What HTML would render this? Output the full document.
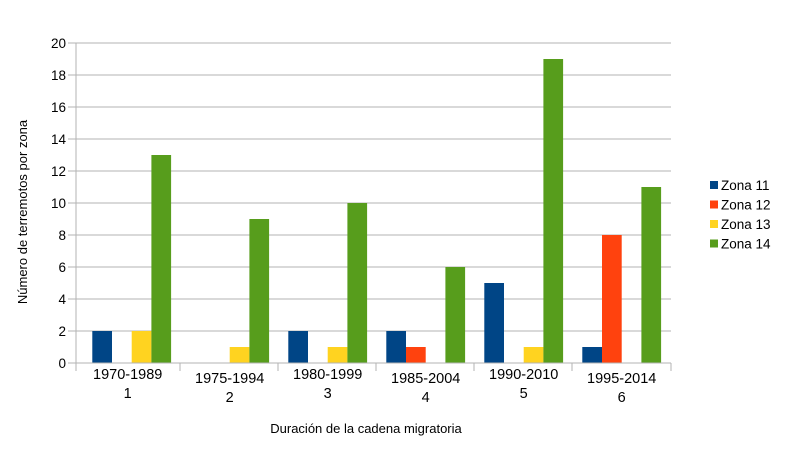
<!DOCTYPE html>
<html><head><meta charset="utf-8"><style>
body{margin:0;background:#fff;}
svg{display:block;font-family:"Liberation Sans",sans-serif;}
</style></head><body>
<svg id="chart" width="790" height="457"></svg>
<script>
const categories=["1970-1989","1975-1994","1980-1999","1985-2004","1990-2010","1995-2014"];
const catNumbers=["1","2","3","4","5","6"];
const seriesNames=["Zona 11","Zona 12","Zona 13","Zona 14"];
const zona11=[2,0,2,2,5,1];
const zona12=[0,0,0,1,0,8];
const zona13=[2,1,1,0,1,0];
const zona14=[13,9,10,6,19,11];
const yTicks=[0,2,4,6,8,10,12,14,16,18,20];
const colors=["#004586","#ff420e","#ffd320","#579d1c"];
const NS="http://www.w3.org/2000/svg";
const svg=document.getElementById('chart');
function mk(t,a,p){const e=document.createElementNS(NS,t);for(const k in a)e.setAttribute(k,a[k]);(p||svg).appendChild(e);return e;}
const x0=76,x1=671,y0=363,y1=43,yMax=20;
const yS=v=>y0-(v/yMax)*(y0-y1);
const pitch=98,barW=19.7,groupOff=16.3;
const xCat=i=>x0+pitch*i;
const xBar=(i,j)=>xCat(i)+groupOff+barW*j;
yTicks.forEach(t=>{
 const g=mk('line',{x1:x0,x2:x1,y1:yS(t),y2:yS(t),stroke:'#b3b3b3','stroke-width':1});
 
 const tk=mk('line',{x1:x0-8,x2:x0,y1:yS(t),y2:yS(t),stroke:'#b3b3b3'});
 
 const tx=mk('text',{x:x0-10,y:yS(t)+5,'text-anchor':'end','font-size':13.5,fill:'#000'});
 tx.textContent=t;
 
});
const series=[zona11,zona12,zona13,zona14];
series.forEach((s,j)=>{s.forEach((v,i)=>{
 if(v<=0)return;
 const r=mk('rect',{x:xBar(i,j),y:yS(v),width:barW,height:y0-yS(v),fill:colors[j]});
 
 
});});
const ax=mk('line',{x1:x0,x2:x0,y1:y1,y2:y0,stroke:'#b3b3b3'});

const bx=mk('line',{x1:x0,x2:x1,y1:y0,y2:y0,stroke:'#b3b3b3'});

for(let i=0;i<=6;i++){
 const tx=i==0?x0:(i==6?x1:xCat(i)+6);
 const t=mk('line',{x1:tx,x2:tx,y1:y0,y2:y0+8,stroke:'#b3b3b3'});
 
}
categories.forEach((c,i)=>{
 const cx=xCat(i)+groupOff+barW*2+(i==0?-4:0);
 const dy=(i%2==1)?4:0;
 const a=mk('text',{x:cx,y:379+dy,'text-anchor':'middle','font-size':14.5});
 a.textContent=c;
 const b=mk('text',{x:cx,y:398+dy,'text-anchor':'middle','font-size':14.5});
 b.textContent=catNumbers[i];
});
const xt=mk('text',{x:366,y:433,'text-anchor':'middle','font-size':13});
xt.textContent='Duración de la cadena migratoria';

const yt=mk('text',{x:0,y:0,'text-anchor':'middle','font-size':13,transform:'translate(27,212) rotate(-90)'});
yt.textContent='Número de terremotos por zona';

seriesNames.forEach((n,j)=>{
 const y=185+19.5*j;
 const r=mk('rect',{x:710,y:y-4,width:8,height:8,fill:colors[j]});
 
 const t=mk('text',{x:721,y:y+5,'font-size':13.5});
 t.textContent=n;
});
</script>
</body></html>
